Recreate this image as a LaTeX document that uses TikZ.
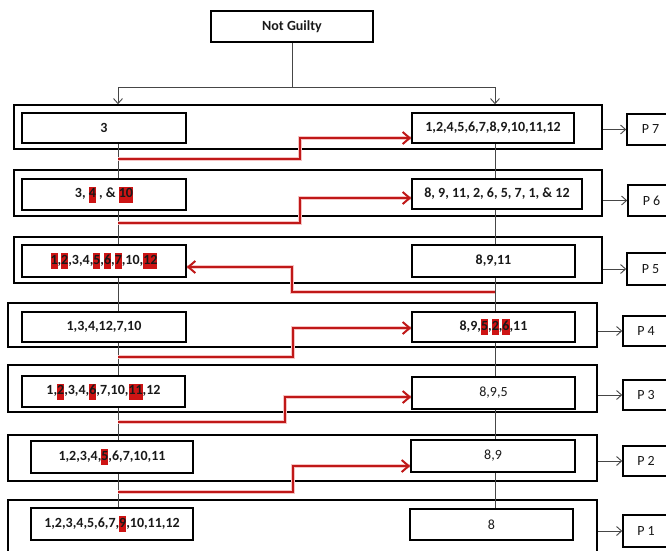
\documentclass[tikz,border=0pt]{standalone}
\usepackage{fontspec}
\setmainfont{Carlito}
\usetikzlibrary{arrows.meta}
\definecolor{hlred}{RGB}{205,20,20}
\definecolor{arrred}{RGB}{192,24,24}
\definecolor{glow}{RGB}{246,196,196}
\definecolor{lgray}{RGB}{70,70,70}
\newcommand\hl[1]{{\setlength{\fboxsep}{0pt}\colorbox{hlred}{\strut#1}}}
\begin{document}
\begin{tikzpicture}[x=1pt,y=-1pt,
  bf/.style={font=\fontsize{14}{16}\selectfont\bfseries},
  rg/.style={font=\fontsize{14}{16}\selectfont},
  box/.style={draw=black, line width=1.6pt, inner sep=0pt, align=center, text=black!90},
  outer/.style={draw=black, line width=1.6pt, inner sep=0pt},
  conn/.style={draw=lgray, line width=0.9pt},
  arr/.style={conn, -{Straight Barb[length=5pt,width=9pt]}},
  redarr/.style={draw=arrred, line width=2pt, line join=miter,
    preaction={draw=glow, line width=4.5pt, arrows=-},
    -{Straight Barb[length=7pt,width=12pt]}}]
\useasboundingbox (0,0) rectangle (666,550);
\fill[white] (0,0) rectangle (666,550);
\clip (0,0) rectangle (666,550);

% top node
\node[box, bf, minimum width=162, minimum height=31] (NG) at (292,26.5) {Not Guilty};

% outer boxes
\node[outer, minimum width=588, minimum height=44] (O7) at (308,127) {};
\node[outer, minimum width=588, minimum height=46] (O6) at (308,193) {};
\node[outer, minimum width=588, minimum height=46] (O5) at (308,260) {};
\node[outer, minimum width=589, minimum height=44] (O4) at (302.5,325) {};
\node[outer, minimum width=589, minimum height=47] (O3) at (302.5,388.5) {};
\node[outer, minimum width=589, minimum height=46] (O2) at (302.5,458) {};
\node[outer, minimum width=589, minimum height=80] (O1) at (302.5,540) {};

% left boxes
\node[box, bf, minimum width=164, minimum height=30] (L7) at (104,128) {3};
\node[box, bf, minimum width=164, minimum height=31] (L6) at (104,194.5) {3, \hl{4} , \& \hl{10}};
\node[box, bf, minimum width=164, minimum height=32] (L5) at (104,261) {\hl{1},\hl{2},3,4,\hl{5},\hl{6},\hl{7},10,\hl{12}};
\node[box, bf, minimum width=164, minimum height=30] (L4) at (104,327) {1,3,4,12,7,10};
\node[box, bf, minimum width=163, minimum height=31] (L3) at (103.5,391.5) {1,\hl{2},3,4,\hl{6},7,10,\hl{11},12};
\node[box, bf, minimum width=162, minimum height=32] (L2) at (112,457) {1,2,3,4,\hl{5},6,7,10,11};
\node[box, bf, minimum width=162, minimum height=32] (L1) at (112,524) {1,2,3,4,5,6,7,\hl{9},10,11,12};

% right boxes
\node[box, bf, minimum width=162, minimum height=30] (R7) at (493,128) {1,2,4,5,6,7,8,9,10,11,12};
\node[box, bf, minimum width=170, minimum height=30] (R6) at (497,194) {8, 9, 11, 2, 6, 5, 7, 1, \& 12};
\node[box, bf, minimum width=163, minimum height=32] (R5) at (493.5,261) {8,9,11};
\node[box, bf, minimum width=163, minimum height=30] (R4) at (493.5,327) {8,9,\hl{5},\hl{2},\hl{6},11};
\node[box, rg, minimum width=163, minimum height=32] (R3) at (493.5,393) {8,9,5};
\node[box, rg, minimum width=164, minimum height=32] (R2) at (493,456) {8,9};
\node[box, rg, minimum width=163, minimum height=31] (R1) at (491.5,524.5) {8};

% P boxes
\node[box, rg, minimum width=47, minimum height=31] (P7) at (650.5,129.5) {P 7};
\node[box, rg, minimum width=47, minimum height=31] (P6) at (651.5,200.5) {P 6};
\node[box, rg, minimum width=47, minimum height=32] (P5) at (650.5,269) {P 5};
\node[box, rg, minimum width=46, minimum height=30] (P4) at (646,331) {P 4};
\node[box, rg, minimum width=46, minimum height=30] (P3) at (646,395) {P 3};
\node[box, rg, minimum width=46, minimum height=30] (P2) at (646,461) {P 2};
\node[box, rg, minimum width=46, minimum height=32] (P1) at (646,531) {P 1};

\coordinate (lx) at (118,0);
\coordinate (rx) at (495,0);
\coordinate (j) at (292,87);

% top connectors
\draw[conn] (NG.south) -- (j);
\draw[arr] (j) -| (O7.north -| lx);
\draw[arr] (j) -| (O7.north -| rx);

% vertical chains
\draw[conn] (L7.south -| lx) -- (L6.north -| lx);
\draw[conn] (L6.south -| lx) -- (L5.north -| lx);
\draw[conn] (L5.south -| lx) -- (L4.north -| lx);
\draw[conn] (L4.south -| lx) -- (L3.north -| lx);
\draw[conn] (L3.south -| lx) -- (L2.north -| lx);
\draw[conn] (L2.south -| lx) -- (L1.north -| lx);
\draw[conn] (R7.south -| rx) -- (R6.north -| rx);
\draw[conn] (R6.south -| rx) -- (R5.north -| rx);
\draw[conn] (R5.south -| rx) -- (R4.north -| rx);
\draw[conn] (R4.south -| rx) -- (R3.north -| rx);
\draw[conn] (R3.south -| rx) -- (R2.north -| rx);
\draw[conn] (R2.south -| rx) -- (R1.north -| rx);

% arrows to P boxes
\draw[arr] (P7.west -| O7.east) -- (P7.west);
\draw[arr] (P6.west -| O6.east) -- (P6.west);
\draw[arr] (P5.west -| O5.east) -- (P5.west);
\draw[arr] (P4.west -| O4.east) -- (P4.west);
\draw[arr] (P3.west -| O3.east) -- (P3.west);
\draw[arr] (P2.west -| O2.east) -- (P2.west);
\draw[arr] (P1.west -| O1.east) -- (P1.west);

% red transfer arrows
\coordinate (a7) at (118,159); \coordinate (b7) at (300,138);
\coordinate (a6) at (118,223); \coordinate (b6) at (300,198);
\coordinate (a5) at (495,292); \coordinate (b5) at (292,267);
\coordinate (a4) at (118,357); \coordinate (b4) at (293,328);
\coordinate (a3) at (118,422); \coordinate (b3) at (285,397);
\coordinate (a2) at (118,492); \coordinate (b2) at (293,466);
\draw[redarr] (a7) -| (b7) -- (b7 -| R7.west);
\draw[redarr] (a6) -| (b6) -- (b6 -| R6.west);
\draw[redarr] (a5) -| (b5) -- (b5 -| L5.east);
\draw[redarr] (a4) -| (b4) -- (b4 -| R4.west);
\draw[redarr] (a3) -| (b3) -- (b3 -| R3.west);
\draw[redarr] (a2) -| (b2) -- (b2 -| R2.west);
\end{tikzpicture}
\end{document}
